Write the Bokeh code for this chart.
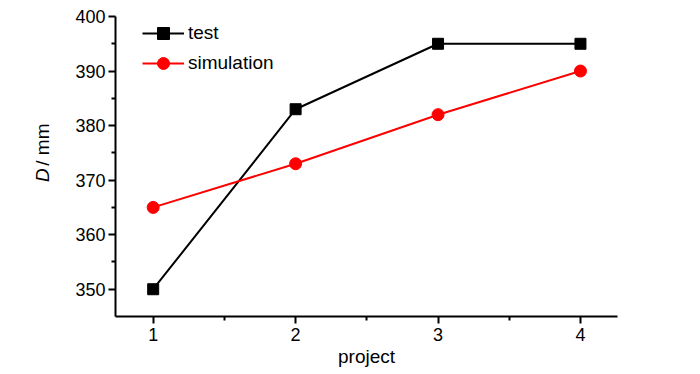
from bokeh.plotting import figure
from bokeh.layouts import row
from bokeh.models import Range1d, FixedTicker, Legend, LegendItem, Label
from bokeh.embed import file_html
from bokeh.resources import INLINE
import math

projects = [1, 2, 3, 4]
test = [350, 383, 395, 395]
simulation = [365, 373, 382, 390]
x_ticks = [1, 2, 3, 4]
x_minor = [1.5, 2.5, 3.5]
y_ticks = [350, 360, 370, 380, 390, 400]
y_minor = [355, 365, 375, 385, 395]

H = 370
LW = 60          # width of the strip holding the y-axis title
W = 692 - LW     # main figure width

p = figure(width=W, height=H, output_backend="svg", toolbar_location=None,
           x_range=Range1d(0.7355, 4.26), y_range=Range1d(345, 400),
           min_border_left=115 - LW, min_border_right=W - (617 - LW),
           min_border_top=16, min_border_bottom=H - 316)
p.outline_line_color = None
p.grid.grid_line_color = None
p.background_fill_color = "white"

p.xaxis.ticker = FixedTicker(ticks=x_ticks, minor_ticks=x_minor)
p.yaxis.ticker = FixedTicker(ticks=y_ticks, minor_ticks=y_minor)
for ax in (p.xaxis, p.yaxis):
    ax.axis_line_width = 2
    ax.axis_line_color = "black"
    ax.major_tick_line_width = 2
    ax.minor_tick_line_width = 2
    ax.major_tick_line_color = "black"
    ax.minor_tick_line_color = "black"
    ax.major_tick_in = 0
    ax.major_tick_out = 7
    ax.minor_tick_in = 0
    ax.minor_tick_out = 4
    ax.major_label_text_font = "Liberation Sans"
    ax.major_label_text_font_size = "18px"
    ax.major_label_text_color = "black"
p.xaxis.major_label_standoff = 4
p.yaxis.major_label_standoff = 3
p.xaxis.axis_label = "project"
p.xaxis.axis_label_text_font = "Liberation Sans"
p.xaxis.axis_label_text_font_style = "normal"
p.xaxis.axis_label_text_font_size = "19px"
p.xaxis.axis_label_text_color = "black"
p.xaxis.axis_label_standoff = 2

r1 = p.line(projects, test, line_color="black", line_width=2)
m1 = p.scatter(projects, test, marker="square", size=11, fill_color="black", line_color="black")
r2 = p.line(projects, simulation, line_color="red", line_width=2)
m2 = p.scatter(projects, simulation, marker="circle", size=12, fill_color="red", line_color="red")

legend = Legend(items=[LegendItem(label="test", renderers=[r1, m1]),
                       LegendItem(label="simulation", renderers=[r2, m2])],
                location=(27, 238), padding=0, margin=0, spacing=0,
                glyph_width=42, glyph_height=30, label_height=30, label_standoff=4,
                border_line_color=None, background_fill_alpha=0,
                label_text_font="Liberation Sans", label_text_font_size="19px",
                label_text_color="black")
p.add_layout(legend)

# strip on the left carrying the y-axis title "D / mm" with an italic D
t = figure(width=LW, height=H, output_backend="svg", toolbar_location=None,
           x_range=Range1d(0, LW), y_range=Range1d(0, H),
           x_axis_location=None, y_axis_location=None,
           min_border_left=0, min_border_right=0, min_border_top=0, min_border_bottom=0)
t.outline_line_color = None
t.grid.grid_line_color = None
t.add_layout(Label(x=42, y=166, text="D", angle=math.pi / 2,
                   text_align="left", text_baseline="alphabetic",
                   text_font="Liberation Sans", text_font_style="italic",
                   text_font_size="19px", text_color="black"))
t.add_layout(Label(x=42, y=186, text="/ mm", angle=math.pi / 2,
                   text_align="left", text_baseline="alphabetic",
                   text_font="Liberation Sans", text_font_size="19px", text_color="black"))

layout = row(t, p, spacing=0)
open("out.html", "w").write(file_html(layout, INLINE))
